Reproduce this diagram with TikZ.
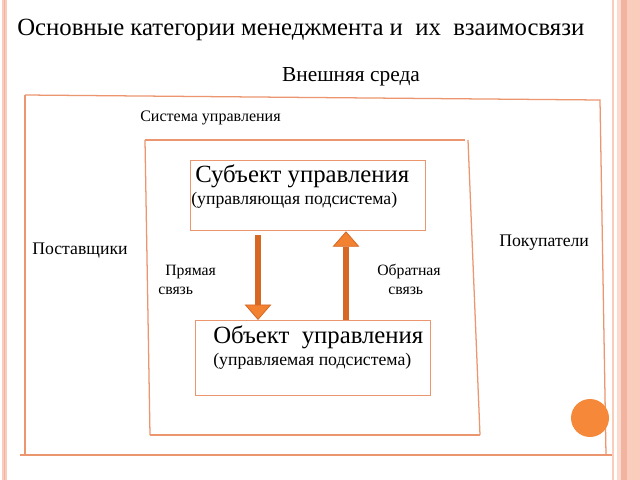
\documentclass[tikz,border=0pt]{standalone}
\usepackage{fontspec}
\setmainfont{Liberation Serif}
\newfontfamily\slidefont{Liberation Serif}
\usepackage{xcolor}
\usetikzlibrary{arrows.meta,calc}
\definecolor{boxline}{RGB}{236,150,112}
\definecolor{arrowfill}{RGB}{242,130,50}
\definecolor{arrowline}{RGB}{214,104,36}
\definecolor{dotfill}{RGB}{246,136,58}
\definecolor{edgepink}{RGB}{250,204,188}
\definecolor{edgedark}{RGB}{242,180,160}
\tikzset{
	frameline/.style={draw=boxline, line width=0.9pt},
	unitbox/.style={draw=boxline, line width=0.9pt, minimum width=#1, inner sep=0pt},
	txt/.style={inner sep=0pt, font=\slidefont\fontsize{#1}{#1}\selectfont},
	flow/.style={draw=arrowline, fill=arrowfill, line width=4.6pt,
			-{Triangle[length=11pt, width=19pt, fill=arrowfill, line width=0.6pt]}}
}

\begin{document}
\begin{tikzpicture}[x=0.025cm, y=-0.025cm]
	\useasboundingbox (0,0) rectangle (640,480);
	\fill[white] (0,0) rectangle (640,480);

	% slide edges
	\fill[edgepink] (2,0) rectangle (7,480);
	\draw[edgedark, line width=0.5pt] (4.5,0) -- (4.5,480);
	\fill[edgepink] (612,0) rectangle (614,480);
	\fill[edgepink!70!white] (617,0) rectangle (621,480);
	\fill[edgedark] (621,0) rectangle (627,480);
	\fill[edgepink] (627,0) rectangle (640,480);

	% headings
	\node[txt=17.6, anchor=west] (title) at (17,30) {Основные категории менеджмента и \ их \ взаимосвязи};
	\node[txt=15.2] (env) at (351,77) {Внешняя среда};

	% external environment
	\draw[frameline] (25,95) -- (600,100) -- (606,455);
	\draw[frameline] (25,95) -- (25,455);
	\draw[frameline] (20,455) -- (612,455);
	\node[txt=11.4, anchor=west] (sys) at (140,118) {Система управления};
	\node[txt=12.6, anchor=west] (supp) at (32,251) {Поставщики};
	\node[txt=12.6, anchor=west] (cust) at (499,243) {Покупатели};

	% control system
	\draw[frameline] (145,140) -- (465,140);
	\draw[frameline] (145,140) -- (150,435);
	\draw[frameline] (468,140) -- (480,435);
	\draw[frameline] (150,435) -- (480,435);

	% subject and object
	\node[unitbox=235*0.025cm, minimum height=70*0.025cm, anchor=north west] (subj) at (190,160) {};
	\node[txt=17.6, anchor=west] (subjA) at (195,176) {Субъект управления};
	\node[txt=12.6, anchor=west] (subjB) at (191,200) {(управляющая подсистема)};
	\node[unitbox=235*0.025cm, minimum height=75*0.025cm, anchor=north west] (obj) at (195,320) {};
	\node[txt=17.6, anchor=west] (objA) at (213,337) {Объект \ управления};
	\node[txt=12.6, anchor=west] (objB) at (213,361) {(управляемая подсистема)};

	% links
	\coordinate (fwd) at (258,0);
	\coordinate (back) at (346,0);
	\draw[flow] ($(subj.south -| fwd)+(0,4)$) -- (obj.north -| fwd);
	\draw[flow] (obj.north -| back) -- (subj.south -| back);
	\node[txt=11.2, anchor=west] (fwdA) at (165,272) {Прямая};
	\node[txt=11.2, anchor=west] (fwdB) at (158,291) {связь};
	\node[txt=11.2, anchor=west] (backA) at (377,272) {Обратная};
	\node[txt=11.2, anchor=west] (backB) at (388,291) {связь};

	% corner dot
	\fill[dotfill] (590,418) circle (19);
\end{tikzpicture}
\end{document}
